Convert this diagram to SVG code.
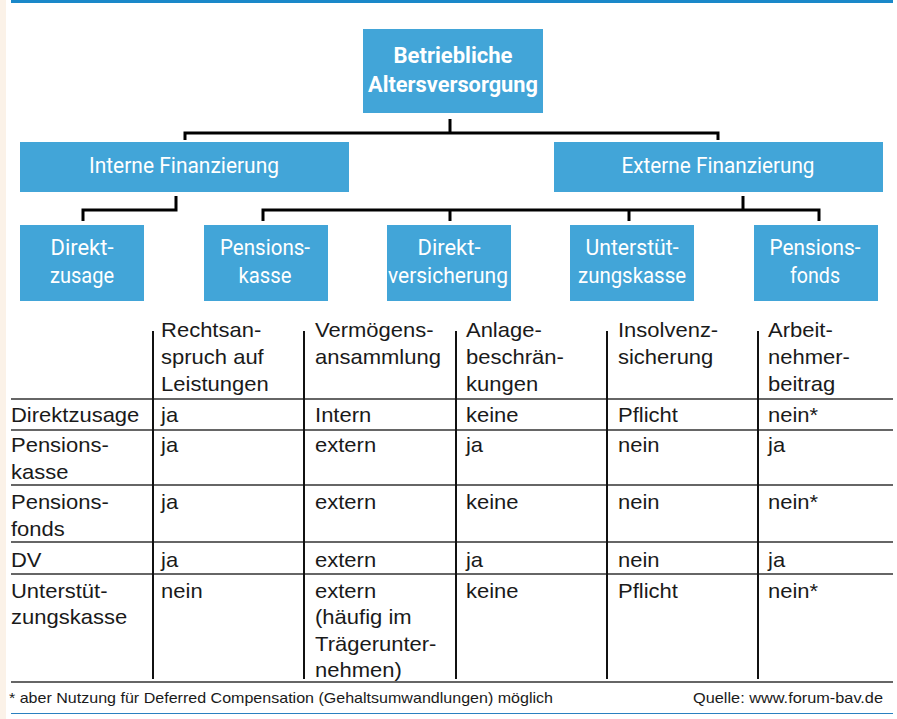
<svg xmlns="http://www.w3.org/2000/svg" width="897" height="719" viewBox="0 0 897 719">
<style>
.box{fill:#42a5d8}
.bt{font-family:Roboto,"Liberation Sans",sans-serif;font-size:22px;fill:#ffffff;text-anchor:middle}
.bb{font-weight:bold}
.conn path{fill:none;stroke:#000;stroke-width:3;stroke-linejoin:miter;stroke-linecap:butt}
.tt{font-family:"Liberation Sans",Arial,sans-serif;font-size:20px;fill:#1a1a1a}
.ft{font-family:"Liberation Sans",Arial,sans-serif;font-size:15px;fill:#1a1a1a}
.hl{stroke:#333;stroke-width:1.5}
.vl{stroke:#111;stroke-width:2}
</style>
<rect x="0" y="0" width="897" height="719" fill="#ffffff"/>
<rect x="0" y="0" width="6" height="719" fill="#fbf2e8"/>
<line x1="11" y1="1.5" x2="893" y2="1.5" stroke="#1a88c9" stroke-width="3"/>

<g id="n-root">
<rect class="box" x="363" y="29" width="180" height="84"/>
<text class="bt bb" x="453" y="63" textLength="119" lengthAdjust="spacingAndGlyphs">Betriebliche</text>
<text class="bt bb" x="453" y="92" textLength="170" lengthAdjust="spacingAndGlyphs">Altersversorgung</text>
</g>
<g id="n-intern">
<rect class="box" x="20" y="142" width="329" height="50"/>
<text class="bt" x="184" y="173" textLength="190" lengthAdjust="spacingAndGlyphs">Interne Finanzierung</text>
</g>
<g id="n-extern">
<rect class="box" x="554" y="142" width="329" height="50"/>
<text class="bt" x="718" y="173" textLength="193" lengthAdjust="spacingAndGlyphs">Externe Finanzierung</text>
</g>
<g id="n-direktzusage">
<rect class="box" x="20" y="225" width="124" height="76"/>
<text class="bt" x="82" y="255" textLength="63" lengthAdjust="spacingAndGlyphs">Direkt-</text>
<text class="bt" x="82" y="283" textLength="64" lengthAdjust="spacingAndGlyphs">zusage</text>
</g>
<g id="n-pensionskasse">
<rect class="box" x="204" y="225" width="124" height="76"/>
<text class="bt" x="265" y="255" textLength="90" lengthAdjust="spacingAndGlyphs">Pensions-</text>
<text class="bt" x="265" y="283" textLength="53" lengthAdjust="spacingAndGlyphs">kasse</text>
</g>
<g id="n-direktversicherung">
<rect class="box" x="387" y="225" width="124" height="76"/>
<text class="bt" x="449" y="255" textLength="63" lengthAdjust="spacingAndGlyphs">Direkt-</text>
<text class="bt" x="448" y="283" textLength="120" lengthAdjust="spacingAndGlyphs">versicherung</text>
</g>
<g id="n-unterstuetzungskasse">
<rect class="box" x="570" y="225" width="124" height="76"/>
<text class="bt" x="632" y="255" textLength="93" lengthAdjust="spacingAndGlyphs">Unterstüt-</text>
<text class="bt" x="632" y="283" textLength="108" lengthAdjust="spacingAndGlyphs">zungskasse</text>
</g>
<g id="n-pensionsfonds">
<rect class="box" x="754" y="225" width="124" height="76"/>
<text class="bt" x="815" y="255" textLength="91" lengthAdjust="spacingAndGlyphs">Pensions-</text>
<text class="bt" x="815" y="283" textLength="50" lengthAdjust="spacingAndGlyphs">fonds</text>
</g>

<g id="connectors" class="conn">
<path d="M450,119 V133"/>
<path d="M185,140 V133 H718 V140"/>
<path d="M176,196 V210 H83 V221"/>
<path d="M743,196 V210"/>
<path d="M263,221 V210 H819 V221"/>
<path d="M450,210 V221"/>
<path d="M629,210 V221"/>
</g>

<g id="table">
<line class="hl" x1="11" y1="399" x2="893" y2="399" stroke="#111"/>
<line class="hl" x1="11" y1="430" x2="893" y2="430"/>
<line class="hl" x1="11" y1="485" x2="893" y2="485"/>
<line class="hl" x1="11" y1="542" x2="893" y2="542"/>
<line class="hl" x1="11" y1="574" x2="893" y2="574"/>
<line class="hl" x1="11" y1="682" x2="893" y2="682"/>
<line class="vl" x1="153" y1="331" x2="153" y2="679"/>
<line class="vl" x1="304" y1="331" x2="304" y2="679"/>
<line class="vl" x1="456" y1="331" x2="456" y2="679"/>
<line class="vl" x1="607" y1="331" x2="607" y2="679"/>
<line class="vl" x1="758" y1="331" x2="758" y2="679"/>
<g transform="scale(1.1,1)" class="tt">
<text x="146.4" y="337">Rechtsan-<tspan x="146.4" y="364">spruch auf</tspan><tspan x="146.4" y="391">Leistungen</tspan></text>
<text x="286.4" y="337">Vermögens-<tspan x="286.4" y="364">ansammlung</tspan></text>
<text x="423.6" y="337">Anlage-<tspan x="423.6" y="364">beschrän-</tspan><tspan x="423.6" y="391">kungen</tspan></text>
<text x="561.8" y="337">Insolvenz-<tspan x="561.8" y="364">sicherung</tspan></text>
<text x="698.2" y="337">Arbeit-<tspan x="698.2" y="364">nehmer-</tspan><tspan x="698.2" y="391">beitrag</tspan></text>

<text x="10" y="422">Direktzusage</text>
<text x="146.4" y="422">ja</text>
<text x="286.4" y="422">Intern</text>
<text x="423.6" y="422">keine</text>
<text x="561.8" y="422">Pflicht</text>
<text x="698.2" y="422">nein*</text>

<text x="10" y="452">Pensions-<tspan x="10" y="479">kasse</tspan></text>
<text x="146.4" y="452">ja</text>
<text x="286.4" y="452">extern</text>
<text x="423.6" y="452">ja</text>
<text x="561.8" y="452">nein</text>
<text x="698.2" y="452">ja</text>

<text x="10" y="509">Pensions-<tspan x="10" y="536">fonds</tspan></text>
<text x="146.4" y="509">ja</text>
<text x="286.4" y="509">extern</text>
<text x="423.6" y="509">keine</text>
<text x="561.8" y="509">nein</text>
<text x="698.2" y="509">nein*</text>

<text x="10" y="567">DV</text>
<text x="146.4" y="567">ja</text>
<text x="286.4" y="567">extern</text>
<text x="423.6" y="567">ja</text>
<text x="561.8" y="567">nein</text>
<text x="698.2" y="567">ja</text>

<text x="10" y="598">Unterstüt-<tspan x="10" y="624">zungskasse</tspan></text>
<text x="146.4" y="598">nein</text>
<text x="286.4" y="598">extern<tspan x="286.4" y="624">(häufig im</tspan><tspan x="286.4" y="651">Trägerunter-</tspan><tspan x="286.4" y="677">nehmen)</tspan></text>
<text x="423.6" y="598">keine</text>
<text x="561.8" y="598">Pflicht</text>
<text x="698.2" y="598">nein*</text>
</g>
</g>

<g id="footer">
<text class="ft" x="9" y="703" textLength="544" lengthAdjust="spacingAndGlyphs">* aber Nutzung für Deferred Compensation (Gehaltsumwandlungen) möglich</text>
<text class="ft" x="693" y="703" textLength="190" lengthAdjust="spacingAndGlyphs">Quelle: www.forum-bav.de</text>
<line x1="11" y1="713.5" x2="893" y2="713.5" stroke="#2a80c0" stroke-width="1"/>
</g>
</svg>
